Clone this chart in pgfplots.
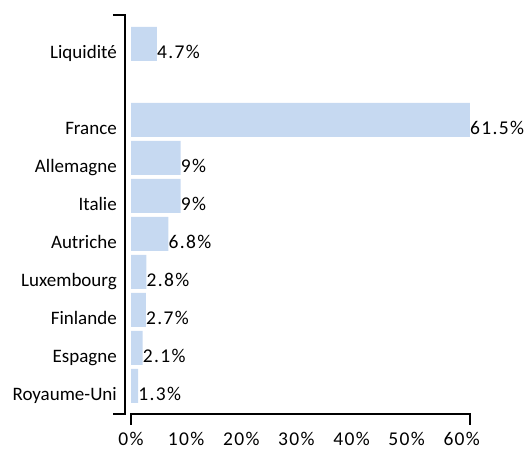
\documentclass[border=0pt]{standalone}
\usepackage{fontspec}
\setmainfont{Carlito}
\newfontfamily\numfont{Carlito}[LetterSpace=7]
\usepackage{pgfplots}
\pgfplotsset{compat=1.18}
\definecolor{barblue}{HTML}{C6D9F1}
\begin{document}
\begin{tikzpicture}
\begin{axis}[name=ax, at={(0,0)}, anchor=south west,
  scale only axis, width=345pt, height=399pt,
  xmin=-1.09, xmax=61.5, ymin=-0.737, ymax=9.763,
  xbar, bar width=34pt, bar shift=0pt,
  axis line style={draw=none}, major tick length=0pt, tick style={draw=none},
  xtick={0,10,20,30,40,50,60},
  xticklabels={0\%,10\%,20\%,30\%,40\%,50\%,60\%},
  ytick={0,1,2,3,4,5,6,7,9},
  yticklabels={Royaume-Uni,Espagne,Finlande,Luxembourg,Autriche,Italie,Allemagne,France,Liquidité},
  yticklabel style={anchor=base east, inner sep=0pt, xshift=-8pt, yshift=-15pt, font=\fontsize{19}{22}\selectfont},
  xticklabel style={anchor=base, inner sep=0pt, yshift=-31.5pt, font=\numfont\fontsize{19.5}{22}\selectfont},
  clip=false,
  nodes near coords, point meta=explicit symbolic,
  every node near coord/.append style={anchor=base west, inner sep=0pt, yshift=-15pt, font=\numfont\fontsize{19.5}{22}\selectfont, text=black},
]
\addplot[fill=barblue, draw=none] coordinates {
  (1.3,0) [1.3\%]
  (2.1,1) [2.1\%]
  (2.7,2) [2.7\%]
  (2.8,3) [2.8\%]
  (6.8,4) [6.8\%]
  (9,5) [9\%]
  (9,6) [9\%]
  (61.5,7) [61.5\%]
  (4.7,9) [4.7\%]
};
\draw[line width=1.5pt] ([xshift=-12pt]axis cs:-1.09,9.763) -- (axis cs:-1.09,9.763) -- (axis cs:-1.09,-0.737) -- ([xshift=-12pt]axis cs:-1.09,-0.737);
\draw[line width=1.5pt] ([yshift=-11pt]axis cs:0,-0.737) -- (axis cs:0,-0.737) -- (axis cs:61.5,-0.737) -- ([yshift=-11pt]axis cs:61.5,-0.737);
\end{axis}
\pgfresetboundingbox
\path ([shift={(-125pt,-36pt)}]ax.south west) rectangle ([shift={(59pt,15pt)}]ax.north east);
\end{tikzpicture}
\end{document}
